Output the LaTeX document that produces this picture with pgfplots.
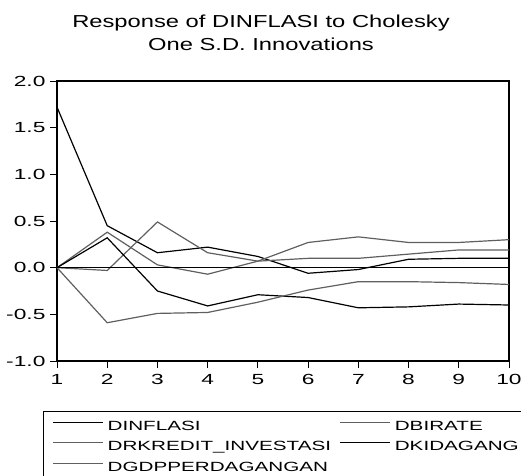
\documentclass[border=0pt]{standalone}
\usepackage{fontspec}
\setmainfont{Liberation Sans}
\newfontfamily\titlefont[FakeStretch=1.37]{Liberation Sans}
\newfontfamily\tickfont[FakeStretch=1.55]{Liberation Sans}
\newfontfamily\legfont[FakeStretch=1.55]{Liberation Sans}
\usepackage{pgfplots}
\pgfplotsset{compat=1.18}
\definecolor{evgray}{RGB}{95,95,95}
\begin{document}
\begin{tikzpicture}
\begin{axis}[
  scale only axis, width=339pt, height=210pt,
  at={(0,0)}, anchor=south west,
  xmin=1, xmax=10, ymin=-1, ymax=2,
  xtick={1,2,3,4,5,6,7,8,9,10},
  xticklabels={1,2,3,4,5,6,7,8,9,10},
  ytick={-1,-0.5,0,0.5,1,1.5,2},
  yticklabels={-1.0,-0.5,0.0,0.5,1.0,1.5,2.0},
  tick align=outside, xtick pos=bottom, ytick pos=left,
  major tick length=5pt,
  tick style={black, line width=0.6pt},
  axis line style={line width=0.8pt},
  tick label style={font=\tickfont\fontsize{11}{12}\selectfont, inner sep=0pt},
  yticklabel style={anchor=east, xshift=-3.5pt},
  xticklabel style={anchor=north, yshift=-4.5pt},
  legend columns=2,
  legend cell align=left,
  legend image code/.code={\draw[#1] (0pt,3.6pt) -- (37.5pt,3.6pt);},
  legend style={at={(-0.03097,-0.17857)}, anchor=north west, draw=black,
    line width=0.6pt, font=\legfont\fontsize{10}{12}\selectfont,
    inner xsep=6.75pt, inner ysep=4pt,
    nodes={inner sep=0pt, text height=10pt, text depth=5.4pt},
    /tikz/every odd column/.append style={column sep=3pt},
    /tikz/every even column/.append style={column sep=0pt}},
]
\addplot[black, line width=0.9pt] table {
x y
1 1.72
2 0.45
3 0.16
4 0.22
5 0.12
6 -0.06
7 -0.02
8 0.09
9 0.10
10 0.10
};
\addlegendentry{\makebox[174pt][l]{DINFLASI}}
\addplot[evgray, line width=0.9pt] table {
x y
1 0
2 0.38
3 0.03
4 -0.07
5 0.07
6 0.27
7 0.33
8 0.27
9 0.27
10 0.30
};
\addlegendentry{\makebox[120pt][l]{DBIRATE}}
\addplot[evgray, line width=0.9pt] table {
x y
1 0
2 -0.03
3 0.49
4 0.16
5 0.07
6 0.10
7 0.10
8 0.145
9 0.19
10 0.19
};
\addlegendentry{\makebox[174pt][l]{DRKREDIT\_INVESTASI}}
\addplot[black, line width=0.9pt] table {
x y
1 0
2 0.32
3 -0.25
4 -0.41
5 -0.29
6 -0.32
7 -0.43
8 -0.42
9 -0.39
10 -0.40
};
\addlegendentry{DKIDAGANG}
\addplot[evgray, line width=0.9pt] table {
x y
1 0
2 -0.59
3 -0.49
4 -0.48
5 -0.37
6 -0.24
7 -0.15
8 -0.15
9 -0.16
10 -0.18
};
\addlegendentry{\makebox[174pt][l]{DGDPPERDAGANGAN}}
\addplot[black, line width=0.6pt, forget plot] table {
x y
1 0
10 0
};
\end{axis}
\node[anchor=base, font=\titlefont\fontsize{13}{14}\selectfont] at (153pt,249.75pt) {Response of DINFLASI to Cholesky};
\node[anchor=base, font=\titlefont\fontsize{13}{14}\selectfont] at (153pt,232.5pt) {One S.D. Innovations};
\pgfresetboundingbox
\path[use as bounding box] (-42.75pt,-85.5pt) rectangle (348pt,270.75pt);
\end{tikzpicture}
\end{document}
